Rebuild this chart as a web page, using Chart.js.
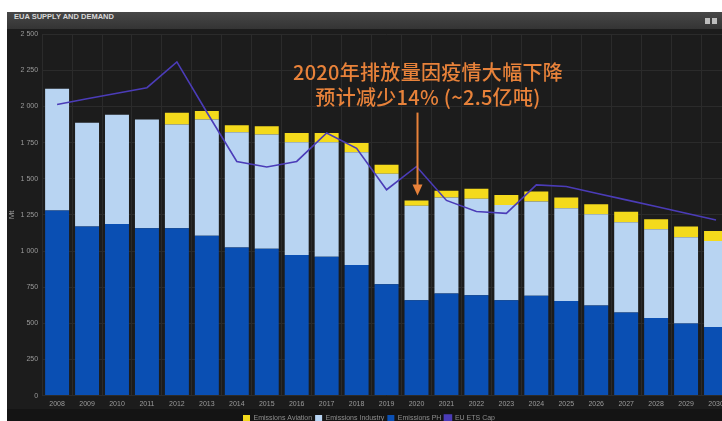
<!DOCTYPE html>
<html>
<head>
<meta charset="utf-8">
<script src="https://cdn.jsdelivr.net/npm/chart.js@4.4.1/dist/chart.umd.min.js"></script>
<style>
    body { margin: 0; width: 722px; height: 421px; overflow: hidden; position: relative; background: #fff; }
    #panel { position: absolute; left: 7px; top: 12px; width: 724px; height: 409px; background: #1c1c1c; }
    #head { height: 17px; line-height: 17px; padding-left: 7px; color: #d8d8d8;
            font: bold 7.5px "Liberation Sans", Arial, sans-serif;
            background: linear-gradient(#474747, #343434); }
    #icons { position: absolute; right: 14px; top: 5px; }
    #icons span { display: inline-block; width: 5px; height: 6px; margin-left: 2px; background: #bdbdbd; }
    #foot { position: absolute; left: 0; right: 0; bottom: 0; height: 12px; background: #141414; }
    #plot { position: relative; margin-top: -3px; height: 406px; }
    #note { position: absolute; left: 228px; top: 59px; width: 400px; text-align: center;
            color: #e8823a; font: 500 20px/25px "Noto Sans CJK SC", sans-serif; letter-spacing: 0.3px; }
</style>
</head>
<body>
<div id="panel">
    <div id="head">EUA SUPPLY AND DEMAND<div id="icons"><span></span><span></span></div></div>
    <div id="foot"></div>
    <div id="plot"><canvas id="euaChart"></canvas></div>
</div>
<div id="note">2020年排放量因疫情大幅下降<br>预计减少14% (~2.5亿吨)</div>

<script>
const years = ['2008', '2009', '2010', '2011', '2012', '2013', '2014', '2015', '2016', '2017', '2018', '2019',
               '2020', '2021', '2022', '2023', '2024', '2025', '2026', '2027', '2028', '2029', '2030'];

// Mt CO2
const emissionsPH = [1280, 1169, 1187, 1157, 1157, 1106, 1025, 1016, 972, 960, 903, 771,
                     660, 706, 694, 660, 690, 655, 623, 574, 537, 498, 474];
const emissionsIndustry = [843, 718, 755, 753, 718, 804, 797, 790, 780, 792, 780, 764,
                           653, 664, 667, 659, 653, 641, 632, 625, 613, 597, 595];
const emissionsAviation = [0, 0, 0, 0, 81, 58, 48, 57, 65, 65, 65, 62,
                           36, 47, 70, 68, 69, 74, 69, 72, 70, 74, 70];
const etsCap = [2014, 2053, 2091, 2130, 2308, 1960, 1620, 1581, 1620, 1817, 1710, 1424,
                1585, 1350, 1273, 1261, 1458, 1446, 1400, 1354, 1308, 1261, 1215];

const yTicks = [0, 250, 500, 750, 1000, 1250, 1500, 1750, 2000, 2250, 2500];

function spaced(v) {
    return String(v).replace(/\B(?=(\d{3})+(?!\d))/g, ' ');
}

// orange arrow pointing down at the 2020 bar
const dropArrow = {
    id: 'dropArrow',
    afterDatasetsDraw(chart) {
        const i = years.indexOf('2020');
        const x = chart.scales.x.getPixelForValue(i) + 1;
        const total = emissionsPH[i] + emissionsIndustry[i] + emissionsAviation[i];
        const tip = chart.scales.y.getPixelForValue(total) - 5;
        const ctx = chart.ctx;
        ctx.save();
        ctx.strokeStyle = '#e8823a';
        ctx.fillStyle = '#e8823a';
        ctx.lineWidth = 2;
        ctx.beginPath();
        ctx.moveTo(x, tip - 83);
        ctx.lineTo(x, tip - 9);
        ctx.stroke();
        ctx.beginPath();
        ctx.moveTo(x - 5, tip - 11);
        ctx.lineTo(x + 5, tip - 11);
        ctx.lineTo(x, tip);
        ctx.closePath();
        ctx.fill();
        ctx.restore();
    }
};

const legendOrder = { 'Emissions Aviation': 0, 'Emissions Industry': 1, 'Emissions PH': 2, 'EU ETS Cap': 3 };

Chart.defaults.font.family = '"Liberation Sans", Arial, sans-serif';
Chart.defaults.color = '#9a9a9a';

new Chart(document.getElementById('euaChart'), {
    type: 'bar',
    data: {
        labels: years,
        datasets: [
            {
                label: 'Emissions PH',
                backgroundColor: '#0a4fb3',
                data: emissionsPH,
                stack: 'em'
            },
            {
                label: 'Emissions Industry',
                backgroundColor: '#b8d4f2',
                data: emissionsIndustry,
                stack: 'em'
            },
            {
                label: 'Emissions Aviation',
                backgroundColor: '#f4da1c',
                data: emissionsAviation,
                stack: 'em'
            },
            {
                type: 'line',
                label: 'EU ETS Cap',
                data: etsCap,
                stack: 'cap',
                order: -1,
                borderColor: '#4b3cb8',
                backgroundColor: '#4b3cb8',
                borderWidth: 1.6,
                pointRadius: 0,
                tension: 0
            }
        ]
    },
    options: {
        responsive: true,
        maintainAspectRatio: false,
        animation: false,
        layout: { padding: { top: 1, left: 0, right: 0, bottom: 0 } },
        datasets: {
            bar: { categoryPercentage: 1, barPercentage: 0.8 }
        },
        plugins: {
            legend: {
                position: 'bottom',
                labels: {
                    boxWidth: 7,
                    boxHeight: 7,
                    padding: 3,
                    color: '#8e8e8e',
                    font: { size: 7 },
                    sort: (a, b) => legendOrder[a.text] - legendOrder[b.text]
                }
            },
            tooltip: { enabled: false }
        },
        scales: {
            x: {
                stacked: true,
                grid: { color: '#2b2b2b', offset: true, drawTicks: false },
                border: { display: false },
                ticks: { color: '#9a9a9a', font: { size: 7 }, padding: 4, maxRotation: 0, autoSkip: false }
            },
            y: {
                stacked: true,
                min: 0,
                max: 2500,
                afterBuildTicks: axis => { axis.ticks = yTicks.map(v => ({ value: v })); },
                grid: { color: '#2b2b2b', drawTicks: false },
                border: { display: false },
                ticks: { color: '#9a9a9a', font: { size: 7 }, padding: 4, callback: v => spaced(v) },
                title: { display: true, text: 'Mt', color: '#9a9a9a', font: { size: 8 }, padding: 0 }
            }
        }
    },
    plugins: [dropArrow]
});
</script>
</body>
</html>
